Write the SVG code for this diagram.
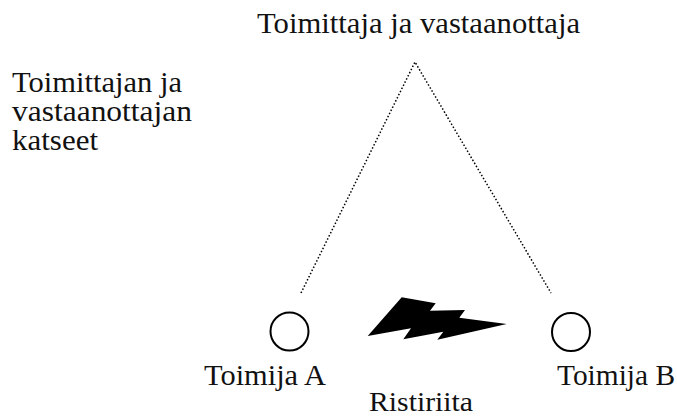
<svg xmlns="http://www.w3.org/2000/svg" width="677" height="417" viewBox="0 0 677 417">
<style>
text{font-family:"Liberation Serif",serif;font-size:29px;fill:#111}
.n{fill:#fff;stroke:#000;stroke-width:2}
.d{fill:none;stroke:#000;stroke-width:1.5;stroke-dasharray:1.5 2}
</style>
<rect width="677" height="417" fill="#fff"/>
<g id="connectors"><polyline class="d" points="301,293 415,62 551,293"/></g>
<g id="top"><text x="257" y="33" textLength="323" lengthAdjust="spacingAndGlyphs">Toimittaja ja vastaanottaja</text></g>
<g id="katseet"><text x="12" y="92" textLength="170" lengthAdjust="spacingAndGlyphs">Toimittajan ja</text><text x="12" y="121" textLength="180" lengthAdjust="spacingAndGlyphs">vastaanottajan</text><text x="12" y="150" textLength="86" lengthAdjust="spacingAndGlyphs">katseet</text></g>
<g id="a"><circle class="n" cx="289.5" cy="331.5" r="19"/><text x="204" y="385" textLength="122" lengthAdjust="spacingAndGlyphs">Toimija A</text></g>
<g id="b"><circle class="n" cx="571" cy="332" r="19"/><text x="557" y="385" textLength="118" lengthAdjust="spacingAndGlyphs">Toimija B</text></g>
<g id="bolt"><polygon fill="#000" points="401.7,297.3 435.7,303.3 430,310.7 465,310 459.3,317.7 506.7,324 437.3,339.7 443.3,331.7 403.3,339.3 411,328.3 367.7,336"/></g>
<g id="ristiriita"><text x="369" y="411" style="font-size:27px" textLength="104" lengthAdjust="spacingAndGlyphs">Ristiriita</text></g>
</svg>
